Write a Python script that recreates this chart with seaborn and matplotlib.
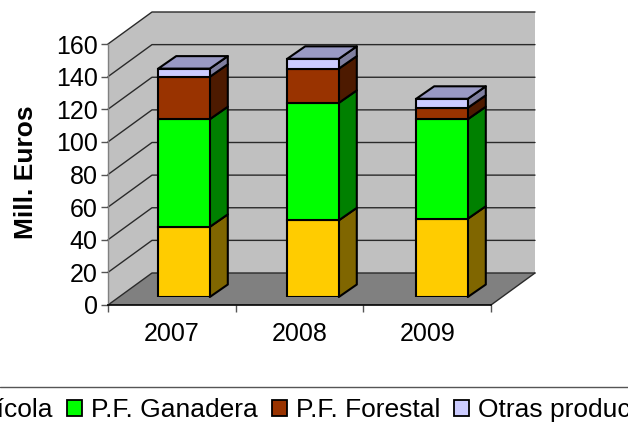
import matplotlib
matplotlib.use("Agg")
import matplotlib.pyplot as plt
import seaborn as sns
from matplotlib.lines import Line2D
from matplotlib.patches import Polygon, Rectangle

# ==========================================
# Data
# ==========================================

years = ["2007", "2008", "2009"]
agricola = [43, 47, 48]
ganadera = [66, 72, 61]
forestal = [26, 21, 7]
otras = [5, 6, 5.5]
y_ticks = [0, 20, 40, 60, 80, 100, 120, 140, 160]

series_names = ["P.F. Agrícola", "P.F. Ganadera", "P.F. Forestal", "Otras producciones"]
series_values = [agricola, ganadera, forestal, otras]
front_colors = ["#ffcc00", "#00ff00", "#993300", "#ccccff"]
side_colors = ["#806600", "#008000", "#4d1a00", "#7f7f9f"]
top_color = "#9999c4"

# ==========================================
# Layout (pixels)
# ==========================================

W, H = 628, 428
PLOT_LEFT, PLOT_RIGHT = 108, 491
PLOT_TOP, PLOT_BOTTOM = 44, 305
BAR_LEFT, BAR_SLOT = 119.5, 129
BAR_SHIFT_Y = 8
BAR_WIDTH = 0.40

slot_px = (PLOT_RIGHT - PLOT_LEFT) / 3
value_px = (PLOT_BOTTOM - PLOT_TOP) / 160

# depth of the box and of each bar, in data units
wall_dx, wall_dy = 44 / slot_px, 32 / value_px
bar_dx, bar_dy = 18 / BAR_SLOT, 12.5 / value_px

sns.set_style("white")
plt.rcParams["font.family"] = ["Liberation Sans", "DejaVu Sans"]

fig = plt.figure(figsize=(W / 100, H / 100), dpi=100)
ax = fig.add_axes([
    PLOT_LEFT / W,
    (H - PLOT_BOTTOM) / H,
    (PLOT_RIGHT - PLOT_LEFT) / W,
    (PLOT_BOTTOM - PLOT_TOP) / H,
])
ax.set_xlim(-0.5, 2.5)
ax.set_ylim(0, 160)
ax.patch.set_visible(False)

# ==========================================
# Walls, floor and gridlines
# ==========================================

x0, x1 = -0.5, 2.5
y1 = y_ticks[-1]
ax.add_patch(Polygon(
    [(x0, 0), (x0 + wall_dx, wall_dy), (x0 + wall_dx, y1 + wall_dy), (x0, y1)],
    facecolor="#c0c0c0", edgecolor="none", clip_on=False, zorder=1,
))
ax.add_patch(Rectangle(
    (x0 + wall_dx, wall_dy), x1 - x0, y1,
    facecolor="#c0c0c0", edgecolor="none", clip_on=False, zorder=1,
))
ax.add_patch(Polygon(
    [(x0, 0), (x1, 0), (x1 + wall_dx, wall_dy), (x0 + wall_dx, wall_dy)],
    facecolor="#808080", edgecolor="none", clip_on=False, zorder=1,
))

for v in y_ticks:
    ax.plot(
        [x0, x0 + wall_dx, x1 + wall_dx],
        [v, v + wall_dy, v + wall_dy],
        color="#2a2a2a", lw=1.0, clip_on=False, zorder=2,
    )
ax.plot([x1, x1 + wall_dx], [0, wall_dy], color="#2a2a2a", lw=1.0, clip_on=False, zorder=2)

# ==========================================
# Axes
# ==========================================

for side in ["top", "right"]:
    ax.spines[side].set_visible(False)
ax.spines["left"].set_color("#808080")
ax.spines["left"].set_linewidth(1.0)
ax.spines["bottom"].set_color("black")
ax.spines["bottom"].set_linewidth(1.2)
for spine in ax.spines.values():
    spine.set_zorder(3)

ax.set_yticks(y_ticks)
ax.set_xticks([0, 1, 2])
ax.set_xticklabels(years)
ax.set_xticks([-0.5, 0.5, 1.5, 2.5], minor=True)
ax.tick_params(axis="x", which="major", length=0, pad=12, labelsize=18, labelcolor="black")
ax.tick_params(axis="x", which="minor", length=5, width=1, color="#555555", bottom=True)
ax.tick_params(axis="y", length=5, width=1, color="#555555", left=True, pad=2.5, labelsize=18, labelcolor="black")
ax.set_ylabel("Mill. Euros", fontsize=19, fontweight="bold", color="black")
ax.yaxis.set_label_coords((38 - PLOT_LEFT) / (PLOT_RIGHT - PLOT_LEFT), 0.507)

# ==========================================
# Stacked bars, on their own shifted axes
# ==========================================

ax_bars = fig.add_axes([
    BAR_LEFT / W,
    (H - PLOT_BOTTOM + BAR_SHIFT_Y) / H,
    3 * BAR_SLOT / W,
    (PLOT_BOTTOM - PLOT_TOP) / H,
])
ax_bars.patch.set_visible(False)
ax_bars.axis("off")

bottoms = [0, 0, 0]
for name, values, color, side_color in zip(series_names, series_values, front_colors, side_colors):
    sns.barplot(
        x=years,
        y=values,
        bottom=bottoms,
        color=color,
        saturation=1,
        width=BAR_WIDTH,
        edgecolor="black",
        linewidth=1.5,
        label=name,
        legend=False,
        zorder=4,
        ax=ax_bars,
    )
    for i, (base, value) in enumerate(zip(bottoms, values)):
        right = i + BAR_WIDTH / 2
        top = base + value
        ax_bars.add_patch(Polygon(
            [(right, base), (right + bar_dx, base + bar_dy),
             (right + bar_dx, top + bar_dy), (right, top)],
            facecolor=side_color, edgecolor="black", lw=1.5,
            joinstyle="round", clip_on=False, zorder=3,
        ))
    bottoms = [b + v for b, v in zip(bottoms, values)]

for i, total in enumerate(bottoms):
    left = i - BAR_WIDTH / 2
    right = i + BAR_WIDTH / 2
    ax_bars.add_patch(Polygon(
        [(left, total), (right, total),
         (right + bar_dx, total + bar_dy), (left + bar_dx, total + bar_dy)],
        facecolor=top_color, edgecolor="black", lw=1.5,
        joinstyle="round", clip_on=False, zorder=3,
    ))

ax_bars.set_xlim(-0.5, 2.5)
ax_bars.set_ylim(0, 160)

# ==========================================
# Legend, cut by the figure edges
# ==========================================

fig.add_artist(Line2D([0, 1], [1 - 387 / H, 1 - 387 / H], color="#555555", lw=1.0))

handles = [
    Rectangle((0, 0), 1, 1, facecolor=c, edgecolor="black", lw=1.3) for c in front_colors
]
fig.legend(
    handles,
    series_names,
    ncols=4,
    loc="center left",
    bbox_to_anchor=(-116 / W, 1 - 410 / H),
    frameon=False,
    fontsize=19,
    labelcolor="black",
    handlelength=0.57,
    handleheight=0.57,
    handletextpad=0.34,
    columnspacing=0.54,
    borderpad=0,
    borderaxespad=0,
)

# ==========================================
# Save
# ==========================================

fig.savefig("out.png", dpi=100)
